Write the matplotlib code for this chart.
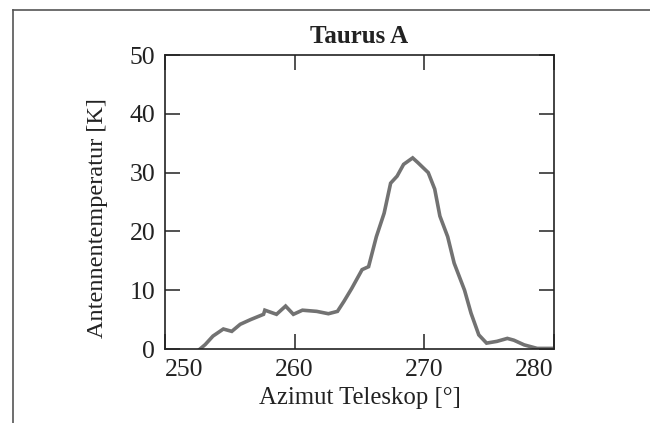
import matplotlib
matplotlib.use("Agg")
import matplotlib.pyplot as plt
from matplotlib.lines import Line2D

# Data
azimuth = [252.7, 253.1, 253.7, 254.5, 255.15, 255.8, 256.6, 257.6, 257.7, 258.6,
           259.3, 259.9, 260.6, 261.7, 262.6, 263.3, 263.8, 264.4, 265.2, 265.7,
           266.3, 266.9, 267.4, 267.9, 268.4, 269.1, 269.5, 270.3, 270.8, 271.2,
           271.8, 272.3, 273.1, 273.6, 274.2, 274.8, 275.6, 276.4, 276.9, 277.7,
           278.7, 279.6, 279.9]
temperature = [0.0, 0.75, 2.2, 3.4, 3.0, 4.2, 5.0, 5.9, 6.6, 5.9,
               7.3, 5.9, 6.6, 6.4, 6.0, 6.4, 8.1, 10.3, 13.5, 14.0,
               19.1, 23.1, 28.2, 29.4, 31.4, 32.5, 31.7, 30.0, 27.2, 22.6,
               19.1, 14.6, 10.0, 6.1, 2.4, 1.0, 1.3, 1.8, 1.5, 0.7,
               0.1, 0.1, 0.1]

x_ticks = [250, 260, 270, 280]
y_ticks = [0, 10, 20, 30, 40, 50]
title = "Taurus A"
x_label = "Azimut Teleskop [°]"
y_label = "Antennentemperatur [K]"

plt.rcParams['font.family'] = ['Liberation Serif', 'DejaVu Serif']

fig = plt.figure(figsize=(6.5, 4.23), dpi=100)
W, H = 650, 423
ax = fig.add_axes([165 / W, (H - 349) / H, (554 - 165) / W, (349 - 55) / H])

ax.plot(azimuth, temperature, color='#727272', lw=2.6, solid_joinstyle='miter')

ax.set_xlim(250, 280)
ax.set_ylim(0, 50)
ax.set_xticks(x_ticks)
ax.set_yticks(y_ticks)
ax.set_xticklabels([str(t) for t in x_ticks])
ax.set_yticklabels([str(t) for t in y_ticks])

labs = ax.get_xticklabels()
labs[0].set_horizontalalignment('left')
labs[-1].set_horizontalalignment('right')

ax.tick_params(axis='both', direction='in', length=10.8, width=1.1,
               color='#222222', labelsize=18.5, labelcolor='#222222',
               top=True, right=True)
ax.tick_params(axis='x', pad=7.5)
ax.tick_params(axis='y', pad=7)

for s in ax.spines.values():
    s.set_linewidth(1.2)
    s.set_color('#222222')

ax.set_title(title, fontsize=18, fontweight='bold', color='#222222', pad=8.6)
ax.set_xlabel(x_label, fontsize=17.8, color='#222222')
ax.set_ylabel(y_label, fontsize=17.5, color='#222222')
ax.xaxis.set_label_coords(0.5, -0.128)
ax.yaxis.label.set_verticalalignment('bottom')
ax.yaxis.set_label_coords(-0.147, 0.446)

# outer frame lines
fig.add_artist(Line2D([12.5 / W, 1.0], [1 - 10.5 / H, 1 - 10.5 / H],
                      transform=fig.transFigure, color='#555555', lw=1.2))
fig.add_artist(Line2D([12.5 / W, 12.5 / W], [0.0, 1 - 10.5 / H],
                      transform=fig.transFigure, color='#555555', lw=1.2))

fig.savefig('out.png', dpi=100)
